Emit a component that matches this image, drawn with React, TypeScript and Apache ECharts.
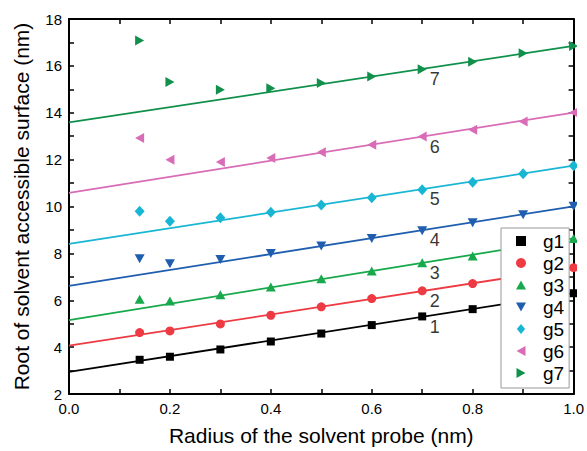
import React, { useEffect, useRef } from "react";
import * as echarts from "echarts";

// Probe radius (nm) at which each structure was sampled
const radius = [0.14, 0.2, 0.3, 0.4, 0.5, 0.6, 0.7, 0.8, 0.9, 1.0];

// Root of the solvent accessible surface (nm) for each group
const g1 = [3.46, 3.59, 3.9, 4.24, 4.58, 4.94, 5.31, 5.62, 5.96, 6.3];
const g2 = [4.62, 4.69, 4.99, 5.36, 5.72, 6.07, 6.4, 6.71, 7.05, 7.39];
const g3 = [6.04, 5.97, 6.23, 6.57, 6.92, 7.25, 7.6, 7.89, 8.28, 8.64];
const g4 = [7.77, 7.56, 7.74, 8.0, 8.31, 8.64, 8.97, 9.31, 9.65, 10.01];
const g5 = [9.8, 9.37, 9.52, 9.76, 10.06, 10.37, 10.72, 11.03, 11.4, 11.74];
const g6 = [12.92, 12.0, 11.9, 12.07, 12.31, 12.64, 12.99, 13.28, 13.63, 14.01];
const g7 = [17.08, 15.31, 14.98, 15.05, 15.27, 15.55, 15.86, 16.18, 16.54, 16.85];

// Linear fits: value at r = 0 and at r = 1
const fitStart = [2.94, 4.06, 5.15, 6.61, 8.41, 10.58, 13.59];
const fitEnd = [6.3, 7.39, 8.64, 10.01, 11.74, 14.01, 16.85];
const fitLabels = ["1", "2", "3", "4", "5", "6", "7"];
const fitLabelAt = 0.725;

const names = ["g1", "g2", "g3", "g4", "g5", "g6", "g7"];
const values = [g1, g2, g3, g4, g5, g6, g7];

const colors = ["#000000", "#ee3b43", "#17a94c", "#1f5eaf", "#19b6d4", "#d96cb6", "#10904a"];
const symbols = [
  "path://M0,0L10,0L10,10L0,10Z",
  "circle",
  "path://M5,0L10,9L0,9Z",
  "path://M0,0L10,0L5,9Z",
  "path://M5,0L10,6L5,12L0,6Z",
  "path://M10,0L10,10L1,5Z",
  "path://M0,0L0,10L9,5Z",
];
const symbolSizes: any[] = [8, 9, [10, 9], [10, 9], [10, 11], [9, 10], [9, 10]];

const FONT = "'Liberation Sans', Arial, sans-serif";

export default function App() {
  const ref = useRef<HTMLDivElement>(null);

  useEffect(() => {
    if (!ref.current) return;
    const chart = echarts.init(ref.current, null, { renderer: "svg" });

    const axisCommon = {
      type: "value" as const,
      axisLine: { show: true, onZero: false, lineStyle: { color: "#000", width: 2 } },
      axisTick: { show: true, inside: true, length: 5, lineStyle: { color: "#000", width: 1.5 } },
      minorTick: { show: true, splitNumber: 2, length: 5, lineStyle: { color: "#000", width: 1.5 } },
      splitLine: { show: false },
    };

    const scatterSeries = names.map((name, i) => ({
      name,
      type: "scatter" as const,
      symbol: symbols[i],
      symbolSize: symbolSizes[i],
      itemStyle: { color: colors[i], opacity: 1 },
      data: radius.map((r, j) => [r, values[i][j]]),
      z: 4,
    }));

    const fitSeries = fitStart.map((a, i) => ({
      name: "fit" + fitLabels[i],
      type: "line" as const,
      showSymbol: false,
      symbol: "none",
      lineStyle: { color: colors[i], width: 1.8 },
      data: [
        [0, a],
        [1, fitEnd[i]],
      ],
      z: 3,
    }));

    const labelSeries = {
      name: "fitLabels",
      type: "scatter" as const,
      symbolSize: 0,
      silent: true,
      data: fitStart.map((a, i) => ({
        value: [fitLabelAt, a + (fitEnd[i] - a) * fitLabelAt],
        label: { formatter: fitLabels[i] },
      })),
      label: {
        show: true,
        position: "inside",
        offset: [0, 12],
        color: "#000",
        fontSize: 18,
        fontFamily: FONT,
      },
      z: 5,
    };

    chart.setOption({
      animation: false,
      backgroundColor: "#fff",
      grid: { left: 69, right: 11, top: 19, bottom: 56 },
      xAxis: [
        {
          ...axisCommon,
          min: 0,
          max: 1,
          interval: 0.2,
          position: "bottom",
          name: "Radius of the solvent probe (nm)",
          nameLocation: "middle",
          nameGap: 31,
          nameTextStyle: { fontSize: 21, color: "#000", fontFamily: FONT },
          axisLabel: {
            color: "#000",
            fontSize: 15,
            fontFamily: FONT,
            margin: 7,
            formatter: (v: number) => v.toFixed(1),
          },
        },
        {
          ...axisCommon,
          min: 0,
          max: 1,
          interval: 0.2,
          position: "top",
          axisLabel: { show: false },
        },
      ],
      yAxis: [
        {
          ...axisCommon,
          min: 2,
          max: 18,
          interval: 2,
          position: "left",
          name: "Root of solvent accessible surface (nm)",
          nameLocation: "middle",
          nameGap: 37,
          nameTextStyle: { fontSize: 21, color: "#000", fontFamily: FONT },
          axisLabel: { color: "#000", fontSize: 15, fontFamily: FONT, margin: 7 },
        },
        {
          ...axisCommon,
          min: 2,
          max: 18,
          interval: 2,
          position: "right",
          axisLabel: { show: false },
        },
      ],
      legend: {
        data: names,
        orient: "vertical",
        left: 501,
        top: 228,
        padding: [3, 5, 5, 15],
        itemWidth: 10,
        itemHeight: 10,
        itemGap: 2,
        backgroundColor: "#fff",
        borderColor: "#999",
        borderWidth: 1,
        textStyle: {
          fontSize: 19,
          lineHeight: 20,
          color: "#000",
          fontFamily: FONT,
          padding: [0, 0, 0, 12],
        },
        z: 10,
      },
      graphic: [
        {
          // markers at r = 1 are cut off at the right frame
          type: "rect",
          shape: { x: 577, y: 0, width: 12, height: 396 },
          style: { fill: "#fff" },
          z: 50,
          silent: true,
        },
      ],
      series: [...fitSeries, ...scatterSeries, labelSeries],
    });

    return () => chart.dispose();
  }, []);

  return (
    <div
      ref={ref}
      style={{ position: "fixed", left: 0, top: 0, width: 587, height: 451 }}
    />
  );
}
